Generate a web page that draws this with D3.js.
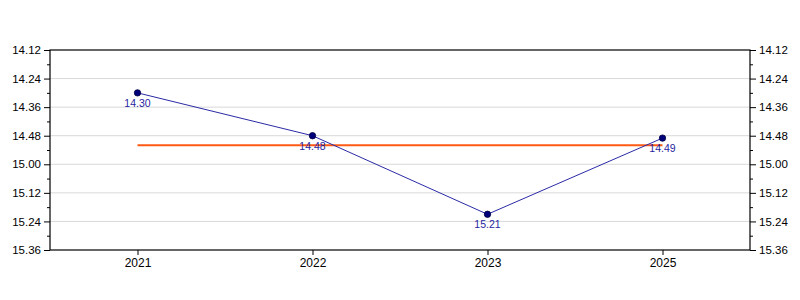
<!DOCTYPE html>
<html>
<head>
<meta charset="utf-8">
<script src="https://cdn.jsdelivr.net/npm/d3@7"></script>
<style>
  body { margin: 0; background: #fff; }
  text { font-family: Arial, "Liberation Sans", sans-serif; }
</style>
</head>
<body>
<div class="canvas"></div>
<script>
// data (times as min.sec)
const years = ['2021', '2022', '2023', '2025'];
const times = ['14.30', '14.48', '15.21', '14.49'];
const yTickLabels = ['14.12', '14.24', '14.36', '14.48', '15.00', '15.12', '15.24', '15.36'];

const toSec = s => { const [m, sec] = s.split('.'); return +m * 60 + +sec; };
const fmt = v => Math.floor(v / 60) + '.' + String(Math.round(v % 60)).padStart(2, '0');

const margin = {top: 50, right: 50, bottom: 50, left: 50};
const width = 800, height = 300;
const graphWidth = width - margin.left - margin.right;
const graphHeight = height - margin.top - margin.bottom;

const svg = d3.select('.canvas')
    .append('svg')
    .attr('width', width)
    .attr('height', height);

const graph = svg.append('g')
    .attr('transform', `translate(${margin.left}, ${margin.top})`);

const data = years.map((y, i) => ({year: y, t: toSec(times[i]), label: times[i]}));
const yTicks = yTickLabels.map(toSec);
const minorTicks = d3.range(yTicks[0] + 6, yTicks[yTicks.length - 1], 12);

// scales
const x = d3.scalePoint().domain(years).range([0, graphWidth]).padding(0.5);
const y = d3.scaleLinear()
    .domain([yTicks[0], yTicks[yTicks.length - 1]])
    .range([0, graphHeight]);

// grid
graph.append('g')
    .selectAll('line')
    .data(yTicks.slice(1, -1))
    .join('line')
    .attr('x1', 0).attr('x2', graphWidth)
    .attr('y1', d => y(d)).attr('y2', d => y(d))
    .attr('stroke', '#d9d9d9');

// axes
const styleAxis = g => {
    g.select('.domain').remove();
    g.selectAll('text').attr('font-size', 11.5).attr('fill', '#000').attr('font-family', 'Arial, "Liberation Sans", sans-serif');
    g.selectAll('line').attr('stroke', '#000');
};

graph.append('g')
    .call(d3.axisLeft(y).tickValues(yTicks).tickFormat(fmt).tickSize(6).tickPadding(3))
    .call(styleAxis);
graph.append('g')
    .call(d3.axisLeft(y).tickValues(minorTicks).tickFormat('').tickSize(3))
    .call(styleAxis);
graph.append('g')
    .attr('transform', `translate(${graphWidth}, 0)`)
    .call(d3.axisRight(y).tickValues(yTicks).tickFormat(fmt).tickSize(6).tickPadding(3))
    .call(styleAxis);
graph.append('g')
    .attr('transform', `translate(${graphWidth}, 0)`)
    .call(d3.axisRight(y).tickValues(minorTicks).tickFormat('').tickSize(3))
    .call(styleAxis);
graph.append('g')
    .attr('transform', `translate(0, ${graphHeight})`)
    .call(d3.axisBottom(x).tickSize(5).tickPadding(3))
    .call(styleAxis)
    .selectAll('text').attr('font-size', 12);

// frame
graph.append('rect')
    .attr('width', graphWidth).attr('height', graphHeight)
    .attr('fill', 'none').attr('stroke', '#000').attr('stroke-width', 1.2);

// average line
const avg = d3.mean(data, d => d.t);
graph.append('line')
    .attr('x1', x(years[0])).attr('x2', x(years[years.length - 1]))
    .attr('y1', y(avg)).attr('y2', y(avg))
    .attr('stroke', '#ff5a14').attr('stroke-width', 2);

// series line
const line = d3.line().x(d => x(d.year)).y(d => y(d.t));
graph.append('path')
    .datum(data)
    .attr('fill', 'none')
    .attr('stroke', '#2a2aa6')
    .attr('stroke-width', 1)
    .attr('d', line);

graph.selectAll('circle')
    .data(data)
    .join('circle')
    .attr('cx', d => x(d.year)).attr('cy', d => y(d.t))
    .attr('r', 3.2)
    .attr('fill', '#00007a')
    .attr('stroke', '#000040')
    .attr('stroke-width', 0.8);

graph.selectAll('.lbl')
    .data(data)
    .join('text')
    .attr('class', 'lbl')
    .attr('x', d => x(d.year)).attr('y', d => y(d.t) + 14)
    .attr('text-anchor', 'middle')
    .attr('font-size', 10.5)
    .attr('fill', '#1f1fa0')
    .text(d => d.label);
</script>
</body>
</html>
